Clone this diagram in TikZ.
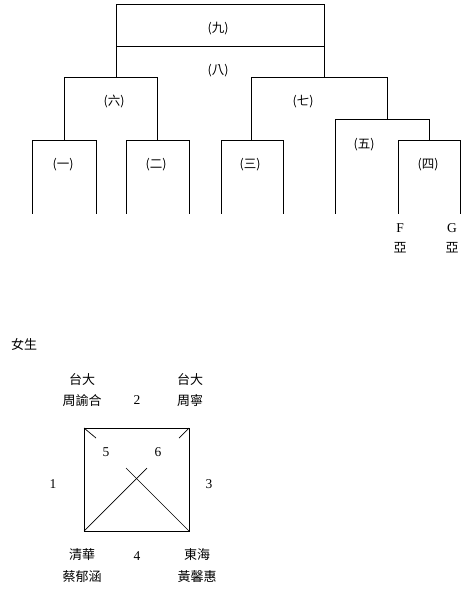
\documentclass[tikz,border=0pt]{standalone}
\usepackage{fontspec}
\setmainfont{Liberation Serif}
\newfontfamily\cjk{Noto Sans CJK TC}
\begin{document}
\begin{tikzpicture}[x=1pt,y=-1pt,
  ln/.style={line width=1pt, line cap=rect},
  thin ln/.style={line width=0.7pt},
  lab/.style={font=\cjk\fontsize{12.5}{12.5}\selectfont, inner sep=0pt},
  nm/.style={font=\fontsize{13.5}{13.5}\selectfont, inner sep=0pt},
  cj/.style={font=\cjk\fontsize{13}{13}\selectfont, inner sep=0pt}]
\useasboundingbox[fill=white] (0,0) rectangle (464,589);
% bracket coordinates
\coordinate (r9tl) at (116,4);
\coordinate (r9tr) at (324,4);
\coordinate (r9ml) at (116,46);
\coordinate (r9mr) at (324,46);
\coordinate (r8l) at (116,77);
\coordinate (r8r) at (324,77);
\coordinate (s6l) at (64,77);
\coordinate (s6r) at (157,77);
\coordinate (s7l) at (251,77);
\coordinate (s7r) at (387,77);
\coordinate (s7rb) at (387,119);
\coordinate (s5l) at (335,119);
\coordinate (s5lb) at (335,213);
\coordinate (s5r) at (429,119);
\coordinate (s5rb) at (429,140);
% top rounds
\draw[ln] (r8l) -- (r9tl) -- (r9tr) -- (r8r);
\draw[ln] (r9ml) -- (r9mr);
\draw[ln] (s6l) -- (s6r);
\draw[ln] (s7l) -- (s7r) -- (s7rb);
\draw[ln] (s5lb) -- (s5l) -- (s5r) -- (s5rb);
% first-round boxes (open at the bottom)
\foreach \n/\a/\b in {b1/32/96, b2/126/189, b3/221/283, b4/398/460}{
  \coordinate (\n bl) at (\a,213);
  \coordinate (\n tl) at (\a,140);
  \coordinate (\n tr) at (\b,140);
  \coordinate (\n br) at (\b,213);
  \draw[ln] (\n bl) -- (\n tl) -- (\n tr) -- (\n br);
}
\draw[ln] (s6l) -- (64,140);
\draw[ln] (s6r) -- (157,140);
\draw[ln] (s7l) -- (251,140);
% labels
\node[lab] (l9) at (218,29) {(九)};
\node[lab] (l8) at (218,71) {(八)};
\node[lab] (l6) at (114,102) {(六)};
\node[lab] (l7) at (303,102) {(七)};
\node[lab] (l1) at (63,165) {(一)};
\node[lab] (l2) at (156,165) {(二)};
\node[lab] (l3) at (250,165) {(三)};
\node[lab] (l5) at (364,145) {(五)};
\node[lab] (l4) at (428,165) {(四)};
\node[nm] (tF) at (400,228) {F};
\node[nm] (tG) at (452,228) {G};
\node[cj] (yF) at (400,248) {亞};
\node[cj] (yG) at (452,248) {亞};
% women section
\node[cj] (nv) at (24,344) {女生};
\node[cj] (t1a) at (82,380) {台大};
\node[cj] (t1b) at (82,401) {周諭合};
\node[cj] (t2a) at (190,380) {台大};
\node[cj] (t2b) at (190,401) {周寧};
\node[cj] (t3a) at (82,555) {清華};
\node[cj] (t3b) at (82,577) {蔡郁涵};
\node[cj] (t4a) at (197,555) {東海};
\node[cj] (t4b) at (197,577) {黃馨惠};
\node[nm] (n2) at (137,400) {2};
\node[nm] (n1) at (53,484) {1};
\node[nm] (n3) at (209,484) {3};
\node[nm] (n4) at (137,556) {4};
\node[nm] (n5) at (106,452) {5};
\node[nm] (n6) at (158,452) {6};
% square
\coordinate (qtl) at (84,428);
\coordinate (qtr) at (189,428);
\coordinate (qbl) at (84,531);
\coordinate (qbr) at (189,531);
\draw[ln] (qtl) -- (qtr) -- (qbr) -- (qbl) -- cycle;
\coordinate (d1) at (96,438);
\coordinate (d2) at (179,438);
\coordinate (d3) at (147,468);
\coordinate (d4) at (126,468);
\draw[thin ln] (qtl) -- (d1);
\draw[thin ln] (qtr) -- (d2);
\draw[thin ln] (qbl) -- (d3);
\draw[thin ln] (qbr) -- (d4);
\end{tikzpicture}
\end{document}
